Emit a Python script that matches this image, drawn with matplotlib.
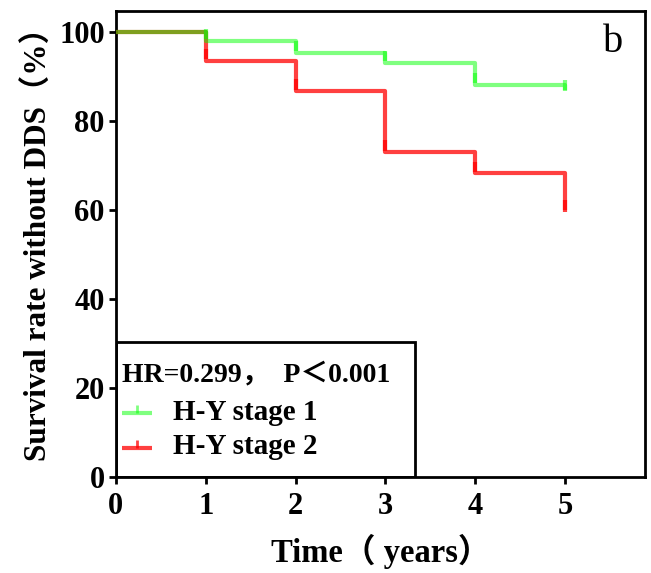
import matplotlib
matplotlib.use("Agg")
import matplotlib.pyplot as plt
from matplotlib.patches import Rectangle

# Kaplan-Meier step data (time in years, survival %)
times = [0, 1, 2, 3, 4, 5]
stage1 = [100, 98.0, 95.3, 93.1, 88.1, 86.6]
stage2 = [100, 93.5, 86.7, 73.0, 68.2, 59.6]
labels = ["H-Y stage 1", "H-Y stage 2"]
stat_text = "HR=0.299，  P＜0.001"

fonts = ["Liberation Serif", "Noto Sans CJK SC"]
plt.rcParams["font.family"] = fonts
plt.rcParams["font.weight"] = "bold"
plt.rcParams["axes.labelweight"] = "bold"

red = (1, 0, 0)
green = (0, 1, 0)

fig = plt.figure(figsize=(6.51, 5.73), dpi=100)
ax = fig.add_axes([0.178, 0.1675, 0.813, 0.8135])


def km(ax, t, s, color, alpha):
    ax.step(t, s, where="post", color=color, alpha=alpha, lw=3, solid_capstyle="butt", zorder=3)
    # censor ticks at each step
    ax.vlines(t[1:], [v + 0.3 for v in s[1:]], [v + 2.6 for v in s[1:]],
              color=color, alpha=alpha, lw=3, zorder=3)


km(ax, times, stage2, red, 0.75)
km(ax, times, stage1, green, 0.5)

ax.set_xlim(0, 5.89)
ax.set_ylim(0, 104.7)
ax.set_xticks(times)
ax.set_yticks([0, 20, 40, 60, 80, 100])
ax.tick_params(labelsize=22, width=2, length=5, pad=3)
ax.tick_params(axis="x", pad=6)
for s in ax.spines.values():
    s.set_linewidth(2)

ax.set_xlabel("Time（ years）", fontsize=23.5, labelpad=9)
ax.set_ylabel("Survival rate without DDS（%）", fontsize=22.5)
ax.yaxis.set_label_coords(-0.118, 0.515)

ax.text(5.53, 97.6, "b", fontsize=29, fontweight="normal", ha="center", va="center")

# legend box drawn by hand
ax.add_patch(Rectangle((0, 0), 0.565, 0.29, transform=ax.transAxes, fill=False,
                       lw=2, ec="black", zorder=4))
ax.text(0.067, 22.9, stat_text, fontsize=20, va="center", ha="left")
for i, (lab, col, a) in enumerate(zip(labels, [green, red], [0.5, 0.75])):
    yy = 14.3 - 7.8 * i
    ax.plot([0.067, 0.4], [yy, yy], color=col, alpha=a, lw=3, solid_capstyle="butt")
    ax.plot([0.23, 0.23], [yy, yy + 1.8], color=col, alpha=a, lw=2, solid_capstyle="butt")
    ax.text(0.635, yy + 0.3, lab, fontsize=21, va="center", ha="left")

fig.savefig("out.png", dpi=100)
